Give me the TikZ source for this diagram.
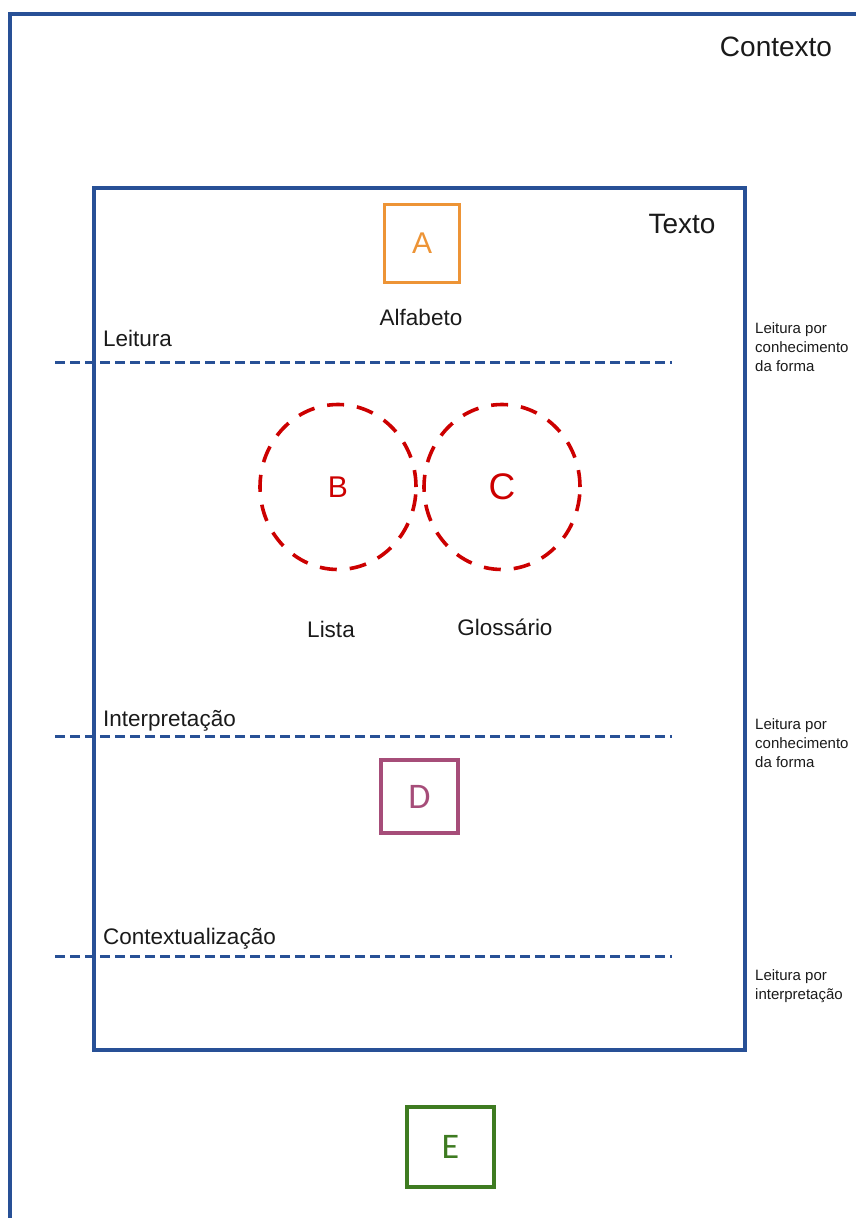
\documentclass[tikz,border=0pt]{standalone}
\usepackage{fontspec}
\setmainfont{Liberation Sans}
\newfontfamily\calib{Carlito}
\usetikzlibrary{shapes.geometric}

\definecolor{frameblue}{RGB}{40,80,150}
\definecolor{boxorange}{RGB}{237,148,54}
\definecolor{circred}{RGB}{204,0,0}
\definecolor{boxpurple}{RGB}{166,77,121}
\definecolor{boxgreen}{RGB}{62,123,33}
\definecolor{ink}{RGB}{26,26,26}

\tikzset{
  frame/.style={draw=frameblue, line width=4pt},
  levelline/.style={draw=frameblue, line width=3pt, dash pattern=on 9.5pt off 5.5pt},
  letterbox/.style={draw, line width=3.5pt, rectangle, inner sep=0pt},
  setcircle/.style={ellipse, draw=circred, line width=3.6pt,
    dash pattern=on 17pt off 13pt, inner sep=0pt,
    minimum width=156pt, minimum height=165pt, text=circred},
  label/.style={text=ink, inner sep=0pt, font=\fontsize{22.5}{27}\selectfont},
  title/.style={text=ink, inner sep=0pt, font=\fontsize{28}{32}\selectfont},
  sidenote/.style={text=ink, inner sep=0pt, align=left, anchor=north west,
    font=\fontsize{15}{19}\selectfont}
}

\begin{document}
\begin{tikzpicture}[x=1pt,y=-1pt]
\useasboundingbox (0,0) rectangle (856,1218);

% outer context frame, open to the right and below
\draw[frame] (10,1222) -- (10,14) -- (860,14);
\node[title, anchor=base] (contexto) at (776,56) {Contexto};

% text frame
\draw[frame] (94,187.5) rectangle (744.5,1050);
\node[title, anchor=base] (texto) at (682,233) {Texto};

% reading levels
\draw[levelline] (55,362) -- (672,362);
\draw[levelline] (55,736) -- (672,736);
\draw[levelline] (55,956) -- (672,956);
\node[label, anchor=base west] (leitura) at (103,346) {Leitura};
\node[label, anchor=base west] (interp) at (103,726) {Interpretação};
\node[label, anchor=base west] (contextual) at (103,944) {Contextualização};

% side notes
\node[sidenote] (note1) at (755,322) {Leitura por\\conhecimento\\da forma};
\node[sidenote] (note2) at (755,718) {Leitura por\\conhecimento\\da forma};
\node[sidenote] (note3) at (755,969) {Leitura por\\interpretação};

% A
\node[letterbox, draw=boxorange, text=boxorange, minimum width=75pt,
  minimum height=78pt, font=\fontsize{30}{34}\selectfont] (A) at (422,243.5) {A};
\node[label, anchor=base] (alfabeto) at (421,325) {Alfabeto};

% B and C
\node[setcircle, font=\fontsize{30}{34}\selectfont] (B) at (338,487) {B};
\node[setcircle, font=\fontsize{37}{40}\selectfont] (C) at (502,487) {C};
\node[label, anchor=base] (lista) at (331,637) {Lista};
\node[label, anchor=base] (glossario) at (505,635) {Glossário};

% D
\node[letterbox, draw=boxpurple, text=boxpurple, minimum width=77pt,
  minimum height=73pt, font=\calib\fontsize{36}{40}\selectfont] (D) at (419.5,796.5) {D};

% E
\node[letterbox, draw=boxgreen, text=boxgreen, minimum width=87pt,
  minimum height=80pt, font=\calib\fontsize{36}{40}\selectfont] (E) at (450.5,1147) {E};
\end{tikzpicture}
\end{document}
